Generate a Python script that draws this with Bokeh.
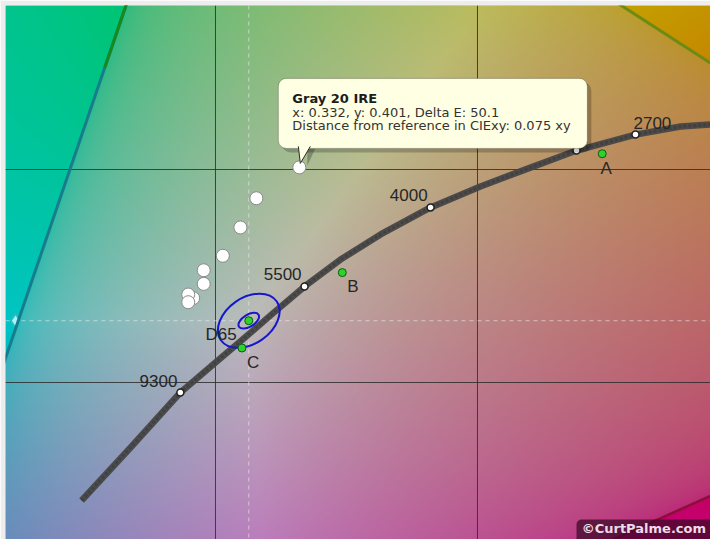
import numpy as np
from bokeh.plotting import figure
from bokeh.models import Span, BoxAnnotation, Range1d
from bokeh.core.properties import value
from bokeh.embed import file_html
from bokeh.resources import INLINE

# ---------------- data (CIE 1931 xy) ----------------
locus_x = [0.2489, 0.2676, 0.2866, 0.3000, 0.3099, 0.3210, 0.3340, 0.3477,
           0.3630, 0.3821, 0.4011, 0.4202, 0.4378, 0.4603, 0.4775, 0.4889]
locus_y = [0.2446, 0.2695, 0.2953, 0.3094, 0.3197, 0.3315, 0.3451, 0.3577,
           0.3695, 0.3822, 0.3920, 0.4009, 0.4089, 0.4164, 0.4202, 0.4211]

cct_labels = ["9300", "5500", "4000", "2700"]
cct_x = [0.2866, 0.3340, 0.3821, 0.4603]
cct_y = [0.2953, 0.3451, 0.3822, 0.4164]
hidden_cct_x = [0.4378]   # marker partly hidden under the tooltip
hidden_cct_y = [0.4089]

illum_names = ["A", "B", "C", "D65"]
illum_x = [0.4476, 0.3484, 0.3101, 0.3127]
illum_y = [0.4074, 0.3516, 0.3162, 0.3290]

meas_x = [0.3320, 0.3156, 0.3095, 0.3028, 0.2955, 0.2955, 0.2915, 0.2896, 0.2896]
meas_y = [0.4010, 0.3865, 0.3728, 0.3595, 0.3527, 0.3463, 0.3396, 0.3413, 0.3377]

gamut_names = ["Red", "Green", "Blue"]     # Rec.709 reference triangle
gamut_x = [0.64, 0.30, 0.15]
gamut_y = [0.33, 0.60, 0.06]

grid_ticks = [0.3, 0.4]

tooltip_title = "Gray 20 IRE"
tooltip_lines = ["x: 0.332, y: 0.401, Delta E: 50.1",
                 "Distance from reference in CIExy: 0.075 xy"]
credit = "\u00a9CurtPalme.com"

# ---------------- layout ----------------
W, H = 710, 539
BL, BT = 5, 5                       # grey border left / top
FW, FH = W - BL, H - BT             # frame size
X0, X1 = 0.21985, 0.48893
Y0, Y1 = 0.22629, 0.47700
XS = FW / (X1 - X0)
YS = FH / (Y1 - Y0)

p = figure(width=W, height=H, x_range=Range1d(X0, X1), y_range=Range1d(Y0, Y1),
           output_backend="svg", toolbar_location=None,
           x_axis_location=None, y_axis_location=None,
           min_border_left=BL, min_border_top=BT, min_border_right=0, min_border_bottom=0)
p.outline_line_color = None
p.border_fill_color = "#ededed"
p.background_fill_color = "#bbbbbb"
p.xgrid.visible = False
p.ygrid.visible = False

# ---------------- chromaticity background ----------------
gx = X0 + (np.arange(FW) + 0.5) * (X1 - X0) / FW
gy = Y0 + (np.arange(FH) + 0.5) * (Y1 - Y0) / FH
xx, yy = np.meshgrid(gx, gy)
M = np.array([[3.2406, -1.5372, -0.4986],
              [-0.9689, 1.8758, 0.0415],
              [0.0557, -0.2040, 1.0570]])
XYZ = np.stack([xx / yy, np.ones_like(xx), (1 - xx - yy) / yy], axis=-1)
lin = XYZ @ M.T
lin = lin - np.minimum(lin.min(axis=-1, keepdims=True), 0)
lin = lin / lin.max(axis=-1, keepdims=True)
srgb = np.where(lin <= 0.0031308, 12.92 * lin, 1.055 * np.power(lin, 1 / 2.4) - 0.055)
rgb = np.clip(srgb * 0.77 * 255, 0, 255).astype(np.uint8)
img = np.empty((FH, FW), dtype=np.uint32)
view = img.view(dtype=np.uint8).reshape((FH, FW, 4))
view[:, :, :3] = rgb
view[:, :, 3] = 255
p.image_rgba(image=[img], x=X0, y=Y0, dw=X1 - X0, dh=Y1 - Y0, level="image")
# muted veil inside the reference gamut triangle
p.patch(gamut_x, gamut_y, fill_color="#a0a0a0", fill_alpha=0.25, line_color=None, level="image")

# ---------------- grid + crosshair ----------------
for t in grid_ticks:
    p.add_layout(Span(location=t, dimension="height", line_color="#2e2e2e",
                      line_width=1, line_alpha=0.85, level="underlay"))
    p.add_layout(Span(location=t, dimension="width", line_color="#2e2e2e",
                      line_width=1, line_alpha=0.85, level="underlay"))
d65x, d65y = illum_x[3], illum_y[3]
p.add_layout(Span(location=d65x, dimension="height", line_color="#f4f4f4",
                  line_alpha=0.55, line_dash="4 4", level="underlay"))
p.add_layout(Span(location=d65y, dimension="width", line_color="#f4f4f4",
                  line_alpha=0.55, line_dash="4 4", level="underlay"))
p.scatter([X0 + 10 / XS], [d65y], marker="diamond", size=14,
          fill_color="#a8f4f6", line_color="#28bcc8", line_width=2)

# ---------------- gamut triangle edges ----------------
split = 0.2815  # fraction along G->B where the colour changes
gsx = gamut_x[1] + (gamut_x[2] - gamut_x[1]) * split
gsy = gamut_y[1] + (gamut_y[2] - gamut_y[1]) * split
p.line([gamut_x[1], gamut_x[2]], [gamut_y[1], gamut_y[2]], line_color="#177c8c", line_width=3)
p.line([gamut_x[1], gsx], [gamut_y[1], gsy], line_color="#168a1c", line_width=3)
p.line([gamut_x[1], gamut_x[0]], [gamut_y[1], gamut_y[0]], line_color="#6c8a14", line_width=3)
p.line([gamut_x[0], gamut_x[2]], [gamut_y[0], gamut_y[2]], line_color="#8c0f36", line_width=2.5)

# ---------------- Planckian locus ----------------
p.line(locus_x, locus_y, line_color="#474747", line_width=6.5, line_join="round", line_alpha=0.95)
p.line(locus_x, locus_y, line_color="#3a3a3a", line_width=3, line_dash="3 2", line_alpha=0.6)
p.scatter(hidden_cct_x, hidden_cct_y, size=7, fill_color="white", line_color="#222222", line_width=1.5)
p.scatter(cct_x, cct_y, size=7, fill_color="white", line_color="#222222", line_width=1.5)
lab_font = value("Liberation Sans")
p.text(cct_x[:3], cct_y[:3], text=cct_labels[:3], text_font=lab_font, text_font_size="17px",
       text_color="#262626", text_align="right", text_baseline="middle",
       x_offset=-3, y_offset=-12)
p.text(cct_x[3:], cct_y[3:], text=cct_labels[3:], text_font=lab_font, text_font_size="17px",
       text_color="#262626", text_align="left", text_baseline="middle",
       x_offset=-2, y_offset=-12)

# ---------------- tolerance ellipses around D65 ----------------
p.ellipse([d65x], [d65y], width=68, height=46, width_units="screen", height_units="screen",
          angle=0.61, fill_color=None, line_color="#1717cc", line_width=2)
p.ellipse([d65x], [d65y], width=23, height=12, width_units="screen", height_units="screen",
          angle=0.55, fill_color=None, line_color="#1717cc", line_width=2)

# ---------------- measurements ----------------
p.scatter(meas_x, meas_y, size=13, fill_color="white", line_color="#8a8a8a", line_width=1)

# ---------------- illuminants ----------------
p.scatter(illum_x, illum_y, size=8, fill_color="#2fd12f", line_color="#0b5d0b", line_width=1)
illum_off = {"A": ("center", 4, 15), "B": ("left", 5, 14), "C": ("left", 5, 15),
             "D65": ("right", -12, 14)}
for nm, ix, iy in zip(illum_names, illum_x, illum_y):
    al, dx, dy = illum_off[nm]
    p.text([ix], [iy], text=[nm], text_font=lab_font, text_font_size="17px",
           text_color="#262626", text_align=al, text_baseline="middle",
           x_offset=dx, y_offset=dy)

# ---------------- tooltip callout ----------------
ax, ay = meas_x[0], meas_y[0]
def dxy(dx, dy):
    return ax + dx / XS, ay - dy / YS
bl, bt = dxy(-21, -89)
br, bb = dxy(288, -19)
sl, st = dxy(-17, -85)
sr, sb = dxy(292, -15)
p.add_layout(BoxAnnotation(left=sl, right=sr, top=st, bottom=sb, fill_color="black",
                           fill_alpha=0.22, line_color=None, border_radius=8))
p.add_layout(BoxAnnotation(left=bl, right=br, top=bt, bottom=bb, fill_color="#ffffe3",
                           fill_alpha=1, line_color="#2a2a2a", line_width=1, border_radius=8))
tail = [dxy(-1, -21), dxy(11, -21), dxy(1, -4)]
shadow = [dxy(8, -19), dxy(16, -19), dxy(8, -2)]
p.patch([q[0] for q in shadow], [q[1] for q in shadow], fill_color="black", fill_alpha=0.25,
        line_color=None)
p.patch([q[0] for q in tail], [q[1] for q in tail], fill_color="#ffffe3", line_color=None,
        level="overlay")
p.line([tail[0][0], tail[2][0], tail[1][0]], [tail[0][1], tail[2][1], tail[1][1]],
       line_color="#2a2a2a", line_width=1, level="overlay")
tfont = value("DejaVu Sans")
tx, ty0 = dxy(-7, -68.6)
p.text([tx], [ty0], text=[tooltip_title], text_font=tfont, text_font_size="13px",
       text_font_style="bold", text_color="#1c1c1c", text_baseline="middle", level="overlay")
for k, line in enumerate(tooltip_lines):
    lx, ly = dxy(-7, -55 + 13.5 * k)
    p.text([lx], [ly], text=[line], text_font=tfont, text_font_size="13px",
           text_color="#333333", text_baseline="middle", level="overlay")

# ---------------- credit ----------------
p.add_layout(BoxAnnotation(left=X1 - 134 / XS, right=X1 + 10 / XS, bottom=Y0 - 10 / YS,
                           top=Y0 + 20 / YS, fill_color="#3a0826", fill_alpha=0.72,
                           line_color=None, border_radius=5))
p.text([X1 - 4.5 / XS], [Y0 + 11 / YS], text=[credit], text_font=tfont, text_font_size="13px",
       text_font_style="bold", text_color="#ecdce8", text_align="right",
       text_baseline="middle", level="overlay")

open("out.html", "w").write(file_html(p, INLINE))
